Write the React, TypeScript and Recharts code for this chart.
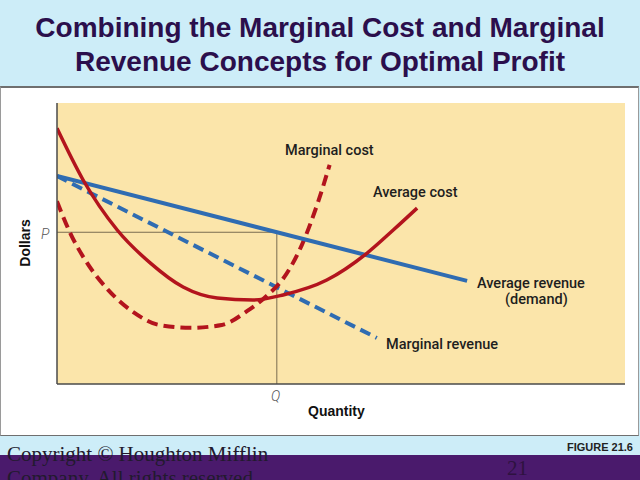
import { LineChart, Line, XAxis, YAxis, CartesianGrid, ReferenceLine } from 'recharts'

// quantity / dollar readings, chart units 0..100 on both axes
const mcQty = [0, 2.5, 5, 9, 13.5, 18, 23.5, 29, 33.5, 37, 40, 43, 46, 48]
const mcVal = [65, 53, 44, 33.5, 25.5, 21, 20, 21, 26, 31.5, 38, 49, 65, 78]
const acQty = [0, 4.6, 10.6, 16.4, 22.2, 28.2, 34.5, 39.8, 47.5, 54.6, 59.2, 63.4]
const acVal = [91, 72.6, 54.8, 43.1, 34.5, 30.6, 29.9, 31.7, 37, 46.6, 54.8, 62.6]
const arQty = [0, 72.2]
const arVal = [74, 36.7]
const mrQty = [0, 56.3]
const mrVal = [74, 16.4]
const priceP = 54
const qtyQ = 38.7

const toPoints = (xs: number[], ys: number[]) => xs.map((q, i) => ({ q, v: ys[i] }))

const RED = '#b3141d'
const BLUE = '#2f6cb2'
const labelFont = "Roboto, 'Liberation Sans', Arial, sans-serif"

const curveLabel = (text: string, left: number, top: number) => (
  <div style={{ position: 'absolute', left, top, fontFamily: labelFont, fontWeight: 500, fontSize: 14.5, lineHeight: '15px', color: '#1e1e1e', whiteSpace: 'nowrap' }}>
    {text}
  </div>
)

export default function App() {
  return (
    <div style={{ position: 'absolute', left: 0, top: 0, width: 640, height: 480, overflow: 'hidden', background: '#cdedf8' }}>
      <div style={{ position: 'absolute', left: 0, top: 11, width: 640, textAlign: 'center', fontFamily: "'Liberation Sans', Arial, sans-serif", fontWeight: 700, fontSize: 28, lineHeight: '34px', color: '#2b0f4c' }}>
        Combining the Marginal Cost and Marginal<br />Revenue Concepts for Optimal Profit
      </div>

      <div style={{ position: 'absolute', left: 0, top: 86, width: 637, height: 347, background: '#fff', borderTop: '2px solid #6f6f6f', borderBottom: '1px solid #6f6f6f', borderLeft: '1px solid #9a9a9a', borderRight: '1px solid #9a9a9a' }} />

      <div style={{ position: 'absolute', left: 0, top: 87 }}>
        <LineChart width={640} height={347} margin={{ top: 16, left: 57, right: 15, bottom: 50 }}>
          <CartesianGrid horizontal={false} vertical={false} fill="#fbe5aa" />
          <XAxis dataKey="q" type="number" domain={[0, 100]} hide allowDataOverflow />
          <YAxis type="number" domain={[0, 100]} hide allowDataOverflow />
          <ReferenceLine segment={[{ x: 0, y: priceP }, { x: qtyQ, y: priceP }]} stroke="#7a6c50" strokeWidth={1} />
          <ReferenceLine segment={[{ x: qtyQ, y: priceP }, { x: qtyQ, y: 0 }]} stroke="#7a6c50" strokeWidth={1} />
          <Line data={toPoints(mrQty, mrVal)} dataKey="v" type="linear" stroke={BLUE} strokeWidth={4} strokeDasharray="11 6" dot={false} isAnimationActive={false} />
          <Line data={toPoints(mcQty, mcVal)} dataKey="v" type="monotone" stroke={RED} strokeWidth={4} strokeDasharray="11 6" dot={false} isAnimationActive={false} />
          <Line data={toPoints(arQty, arVal)} dataKey="v" type="linear" stroke={BLUE} strokeWidth={4} dot={false} isAnimationActive={false} />
          <Line data={toPoints(acQty, acVal)} dataKey="v" type="monotone" stroke={RED} strokeWidth={3.5} dot={false} isAnimationActive={false} />
          <ReferenceLine x={0} stroke="#4a4a4a" strokeWidth={1.5} />
          <ReferenceLine y={0} stroke="#4a4a4a" strokeWidth={1.5} />
        </LineChart>
      </div>

      {curveLabel('Marginal cost', 285, 143)}
      {curveLabel('Average cost', 373, 185)}
      {curveLabel('Average revenue', 477, 276)}
      {curveLabel('(demand)', 505, 292)}
      {curveLabel('Marginal revenue', 386, 337)}

      <div style={{ position: 'absolute', left: 41, top: 226, fontFamily: labelFont, fontStyle: 'italic', fontWeight: 300, fontSize: 14, color: '#555' }}>P</div>
      <div style={{ position: 'absolute', left: 271, top: 388, fontFamily: labelFont, fontStyle: 'italic', fontWeight: 300, fontSize: 14, color: '#555' }}>Q</div>
      <div style={{ position: 'absolute', left: 308, top: 403, fontFamily: "'Liberation Sans', Arial, sans-serif", fontWeight: 700, fontSize: 14, color: '#111' }}>Quantity</div>
      <div style={{ position: 'absolute', left: 25, top: 243, transform: 'translate(-50%, -50%) rotate(-90deg)', fontFamily: "'Liberation Sans', Arial, sans-serif", fontWeight: 700, fontSize: 14, color: '#111', whiteSpace: 'nowrap' }}>Dollars</div>

      <div style={{ position: 'absolute', left: 0, top: 455, width: 640, height: 25, background: '#4a1a6c' }} />
      <div style={{ position: 'absolute', right: 7, top: 441, fontFamily: "'Liberation Sans Narrow', 'Liberation Sans', Arial, sans-serif", fontWeight: 700, fontSize: 11, color: '#222' }}>FIGURE 21.6</div>
      <div style={{ position: 'absolute', left: 7, top: 442, fontFamily: "'Liberation Serif', 'Times New Roman', serif", fontSize: 21, lineHeight: '24px', color: '#221a2e', whiteSpace: 'nowrap' }}>
        Copyright © Houghton Mifflin<br />Company. All rights reserved.
      </div>
      <div style={{ position: 'absolute', left: 507, top: 456, fontFamily: "'Liberation Serif', 'Times New Roman', serif", fontSize: 21, lineHeight: '24px', color: '#2e1240' }}>21</div>
    </div>
  )
}
